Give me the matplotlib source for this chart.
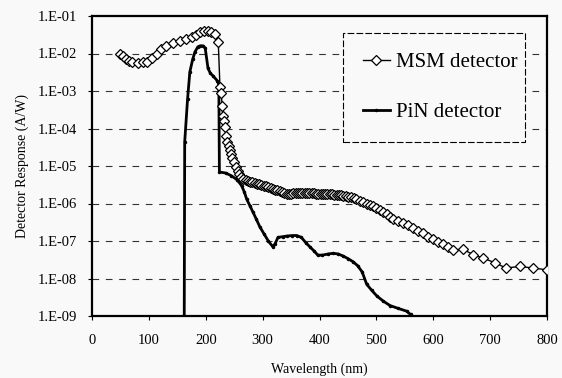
import numpy as np
import matplotlib
matplotlib.use("Agg")
import matplotlib.pyplot as plt
from matplotlib.ticker import FixedLocator, FuncFormatter

# MSM detector response (A/W)
msm_wl = [50, 55, 60, 65, 70, 80, 90, 97, 105, 114, 122, 130, 143, 155, 165,
          175, 183, 190, 197, 204, 210, 216, 222, 225, 227, 229, 230, 232, 234,
          236, 238, 240, 242, 244, 247, 250, 253, 256, 259, 262, 266, 270, 274,
          278, 282, 286, 290, 294, 298, 302, 306, 310, 314, 318, 322, 326, 330,
          334, 338, 342, 346, 350, 354, 358, 362, 366, 370, 374, 378, 382, 386,
          390, 394, 398, 402, 406, 410, 414, 418, 422, 426, 430, 434, 438, 442,
          446, 450, 455, 460, 465, 471, 477, 483, 489, 494, 500, 506, 512, 518,
          524, 529, 538, 547, 556, 565, 574, 582, 591, 600, 608, 617, 626, 635,
          653, 670, 688, 709, 728, 752, 776, 800]
msm_resp = [1.0e-2, 8.5e-3, 7.0e-3, 6.2e-3, 5.8e-3, 5.7e-3, 5.8e-3, 5.9e-3,
            7.5e-3, 1.0e-2, 1.3e-2, 1.6e-2, 1.9e-2, 2.2e-2, 2.5e-2, 2.8e-2,
            3.2e-2, 3.7e-2, 3.9e-2, 4.0e-2, 3.7e-2, 3.3e-2, 2.0e-2, 1.3e-3,
            9.0e-4, 4.0e-4, 2.1e-4, 1.6e-4, 1.1e-4,
            6.5e-5, 4.5e-5, 3.5e-5, 2.7e-5, 2.1e-5, 1.6e-5, 1.25e-5, 9.5e-6,
            7.5e-6, 6.0e-6, 5.2e-6, 4.6e-6, 4.2e-6, 4.0e-6, 3.8e-6, 3.7e-6,
            3.5e-6, 3.4e-6, 3.3e-6, 3.15e-6, 3.0e-6, 2.9e-6, 2.8e-6, 2.6e-6,
            2.5e-6, 2.35e-6, 2.25e-6, 2.15e-6, 2.0e-6, 1.9e-6, 1.8e-6, 1.75e-6,
            1.8e-6, 1.85e-6, 1.9e-6, 1.9e-6, 1.9e-6, 1.9e-6, 1.9e-6, 1.9e-6,
            1.9e-6, 1.85e-6, 1.85e-6, 1.8e-6, 1.8e-6, 1.8e-6, 1.8e-6, 1.8e-6,
            1.75e-6, 1.75e-6, 1.75e-6, 1.7e-6, 1.7e-6, 1.7e-6, 1.65e-6, 1.6e-6,
            1.6e-6, 1.5e-6, 1.45e-6, 1.4e-6, 1.3e-6, 1.2e-6, 1.1e-6, 1.0e-6,
            9.3e-7, 8.6e-7, 7.6e-7, 6.8e-7, 6.0e-7, 5.2e-7, 4.4e-7, 3.8e-7,
            3.4e-7, 3.0e-7, 2.6e-7, 2.2e-7, 1.9e-7, 1.6e-7, 1.3e-7, 1.1e-7,
            9.6e-8, 8.3e-8, 7.0e-8, 5.8e-8, 6.0e-8, 4.3e-8, 3.5e-8, 2.6e-8,
            1.9e-8, 2.1e-8, 1.9e-8, 1.7e-8]

# PiN detector response (A/W)
pin_wl = [162, 163, 168, 172, 177, 181, 186, 190, 195, 199, 204, 208, 213, 220,
          223, 224, 235, 245, 255, 263, 268, 272, 278, 283, 289, 295, 303, 310,
          318, 322, 327, 335, 342, 352, 360, 368, 376, 383, 390, 397, 405, 415,
          424, 433, 441, 450, 459, 467, 475, 483, 492, 501, 512, 524, 538, 553,
          560, 570]
pin_resp = [1e-10, 4.4e-5, 6e-4, 3.2e-3, 7e-3, 1.1e-2, 1.5e-2, 1.6e-2, 1.6e-2,
            1.4e-2, 4e-3, 3e-3, 2.5e-3, 1.9e-3, 1.5e-3, 6.9e-6, 6.5e-6, 5.5e-6,
            4.3e-6, 3.0e-6, 2.0e-6, 1.3e-6, 8.5e-7, 5.9e-7, 3.8e-7, 2.4e-7,
            1.5e-7, 1.0e-7, 7.0e-8, 8.5e-8, 1.25e-7, 1.3e-7, 1.35e-7, 1.4e-7,
            1.4e-7, 1.25e-7, 9e-8, 7e-8, 5.5e-8, 4.2e-8, 4.2e-8, 4.5e-8, 4.7e-8,
            4.5e-8, 4.0e-8, 3.4e-8, 2.8e-8, 2.2e-8, 1.5e-8, 7e-9, 4.8e-9, 3.4e-9,
            2.5e-9, 1.9e-9, 1.6e-9, 1.35e-9, 1.1e-9, 6e-10]

x_ticks = [0, 100, 200, 300, 400, 500, 600, 700, 800]
y_ticks = [1e-9, 1e-8, 1e-7, 1e-6, 1e-5, 1e-4, 1e-3, 1e-2, 1e-1]

plt.rcParams['font.family'] = ['Liberation Serif', 'DejaVu Serif']

bg = '#f9f9f9'
fig = plt.figure(figsize=(5.62, 3.78), dpi=100, facecolor=bg)
ax = fig.add_axes([92/562, 1-316/378, 455/562, 300/378])
ax.set_facecolor(bg)

ax.set_yscale('log')
ax.set_xlim(0, 800)
ax.set_ylim(1e-9, 1e-1)

# horizontal dashed grid only
for v in y_ticks[1:-1]:
    ax.axhline(v, color='#333333', lw=0.8, ls=(0, (6, 6)), zorder=1)

ax.plot(pin_wl, pin_resp, color='black', lw=2.0, marker='.', ms=3,
        label='PiN detector', zorder=3)
ax.plot(msm_wl, msm_resp, color='black', lw=1.0, marker='D', ms=4.8,
        mfc='white', mec='black', mew=0.9, label='MSM detector', zorder=4)

ax.yaxis.set_major_locator(FixedLocator(y_ticks))
ax.yaxis.set_minor_locator(FixedLocator([]))
ax.yaxis.set_major_formatter(FuncFormatter(
    lambda v, p: '1.E-%02d' % int(round(-np.log10(v)))))
ax.set_xticks(x_ticks)
ax.tick_params(axis='both', labelsize=10.5, length=3, width=0.8, pad=8)
ax.tick_params(axis='x', pad=10)

for s in ax.spines.values():
    s.set_linewidth(1.6)

ax.set_xlabel('Wavelength (nm)', fontsize=10, labelpad=11)
ax.set_ylabel('Detector Response (A/W)', fontsize=10, labelpad=6)

h, l = ax.get_legend_handles_labels()
leg = ax.legend(h[::-1], l[::-1], loc='upper left',
                bbox_to_anchor=(0.552, 0.943, 0.40, 0.0), mode='expand',
                fontsize=15, frameon=True, fancybox=False,
                labelspacing=1.45, handlelength=1.3, handletextpad=0.3,
                borderpad=0.95, borderaxespad=0)
fr = leg.get_frame()
fr.set_edgecolor('black')
fr.set_facecolor(bg)
fr.set_alpha(1)
fr.set_linewidth(0.8)
fr.set_linestyle((0, (6, 2)))

fig.savefig('out.png', dpi=100, facecolor=bg)
